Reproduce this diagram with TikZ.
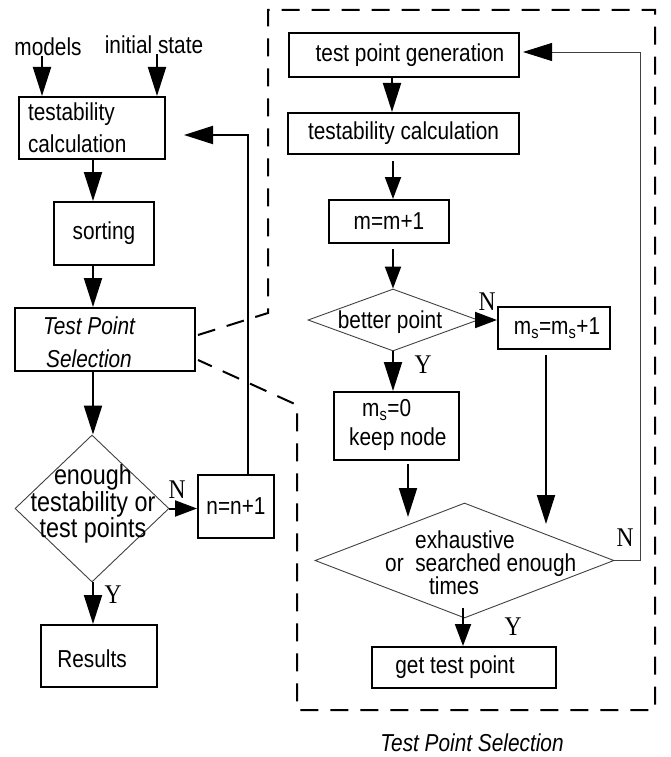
\documentclass[tikz,border=0pt]{standalone}
\usepackage{fontspec}
\setmainfont[FakeStretch=0.85]{Liberation Sans}
\newfontfamily\lserif[FakeStretch=0.87]{Liberation Serif}
\usetikzlibrary{arrows.meta,shapes.geometric}
\begin{document}
\begin{tikzpicture}[x=1pt,y=-1pt,
  box/.style={draw,line width=2pt,rectangle,inner sep=0pt,font=\fontsize{24.5}{25}\selectfont},
  dia/.style={draw=black!75,line width=0.9pt,diamond,inner sep=0pt},
  txt/.style={font=\fontsize{24.5}{25}\selectfont,inner sep=0pt},
  yn/.style={font=\lserif\fontsize{27}{27}\selectfont,inner sep=0pt},
  arr/.style={line width=2pt,-{Triangle[length=29pt,width=18pt]}},
  arrs/.style={line width=2pt,-{Triangle[length=22pt,width=16pt]}},
  fb/.style={line width=0.9pt,draw=black!75},
  frame/.style={line width=2pt,dash pattern=on 18pt off 12pt},
]
\useasboundingbox (0,0) rectangle (670,757);

% ---------- left column ----------
\node[txt] (models) at (48,47) {models};
\node[txt] (init) at (154,45) {initial state};
\node[box, minimum width=146, minimum height=62, text width=128, inner xsep=9pt,
      align=left, font=\fontsize{24.5}{32}\selectfont] (tc1) at (92,128) {testability\\calculation};
\node[box, minimum width=100, minimum height=63] (sort) at (104,233.5) {sorting};
\node[box, minimum width=180, minimum height=63] (tps) at (105,339.5) {};
\node[txt, align=center, font=\itshape\fontsize{24.5}{33}\selectfont] (tpst) at (89,342.5) {Test Point\\Selection};
\node[dia, minimum width=154, minimum height=147] (d1) at (92,508.5) {};
\node[txt, align=center, font=\fontsize{27.5}{20.5}\selectfont] (d1t) at (93,504) {enough\\testability or\\test points};
\node[box, minimum width=76, minimum height=63] (nn) at (236,506.5) {n=n+1};
\node[box, minimum width=116, minimum height=62] (res) at (99,656) {};
\node[txt] (rest) at (92,659) {Results};
\node[yn] (n1) at (177,490) {N};
\node[yn] (y1) at (113,595) {Y};

\draw[arr] ([xshift=-6pt]models.south) -- ([xshift=-6pt]models.south |- tc1.north);
\draw[arr] ([xshift=3pt]init.south) -- ([xshift=3pt]init.south |- tc1.north);
\draw[arr] ([xshift=1pt]tc1.south) -- ([xshift=1pt]tc1.south |- sort.north);
\draw[arr] ([xshift=1pt]tc1.south |- sort.south) -- ([xshift=1pt]tc1.south |- tps.north);
\draw[arr] ([xshift=1pt]tc1.south |- tps.south) -- ([xshift=1pt]d1.north);
\draw[arrs] (d1.east) -- (d1.east -| nn.west);
\draw[arr] ([xshift=1pt]d1.south) -- ([xshift=1pt]d1.south |- res.north);
\coordinate (fb1) at ([xshift=18pt,yshift=-7pt]tc1.east);
\draw[arr] ([xshift=12pt]nn.north) |- (fb1);

% ---------- right column ----------
\node[box, minimum width=230, minimum height=44] (tpg) at (404,55) {\hspace*{12pt}test point generation};
\node[box, minimum width=231, minimum height=41] (tc2) at (403.5,133.5) {testability calculation};
\node[box, minimum width=120, minimum height=43] (mm) at (389,221.5) {m=m+1};
\node[dia, minimum width=170, minimum height=62] (d2) at (393,320) {};
\node[txt] (d2t) at (390,322) {better point};
\node[box, minimum width=112, minimum height=42] (ms1) at (554,328) {\hspace*{6pt}m\textsubscript{s}=m\textsubscript{s}+1};
\node[box, minimum width=125, minimum height=68] (ms0) at (396.5,426) {};
\node[txt, align=left, anchor=west, font=\fontsize{24.5}{29}\selectfont] (ms0t) at (349,425) {\hspace*{13pt}m\textsubscript{s}=0\\keep node};
\node[dia, minimum width=299, minimum height=115] (d3) at (464.5,560.5) {};
\node[txt, align=left, anchor=west, font=\fontsize{24.5}{23}\selectfont] (d3t) at (385,563) {\hspace*{30pt}exhaustive\\or\ \ searched enough\\\hspace*{44pt}times};
\node[box, minimum width=184, minimum height=41] (gtp) at (464,667.5) {get test point\hspace*{18pt}};
\node[txt, font=\itshape\fontsize{24.5}{25}\selectfont] (cap) at (472,743) {Test Point Selection};
\node[yn] (n2) at (487,302) {N};
\node[yn] (y2) at (423,365) {Y};
\node[yn] (n3) at (625,538) {N};
\node[yn] (y3) at (513,627) {Y};

\draw[arr] ([xshift=-12pt]tpg.south) -- ([xshift=-12pt]tpg.south |- tc2.north);
\draw[arrs] ([xshift=-10.5pt,yshift=-6pt]tc2.south) -- ([xshift=-10.5pt]tc2.south |- mm.north);
\draw[arrs] ([xshift=4pt,yshift=-5pt]mm.south) -- (d2.north);
\draw[arrs] (d2.east) -- (d2.east -| ms1.west);
\draw[arr] (d2.south) -- (d2.south |- ms0.north);
\coordinate (ms1e) at ([xshift=-8pt,yshift=-174pt]ms1.south);
\draw[arr] ([xshift=-8pt,yshift=-5pt]ms1.south) -- (ms1e);
\coordinate (ms0e) at ([xshift=11.5pt,yshift=-56pt]ms0.south);
\draw[arr] ([xshift=11.5pt,yshift=-3pt]ms0.south) -- (ms0e);
\draw[arrs] ([xshift=-1.5pt,yshift=10pt]d3.south) -- ([xshift=-1.5pt]d3.south |- gtp.north);
\coordinate (fb2) at ([xshift=3pt,yshift=3pt]tpg.east);
\draw[fb, -{Triangle[length=29pt,width=18pt,color=black,fill=black]}] (d3.east) -- ++(26,0) |- (fb2);

% ---------- dashed call-out frame ----------
\draw[frame] ([xshift=2pt,yshift=4.5pt]tps.east) -- (268,313) -- (268,10) -- (655,10)
  -- (655,710) -- (297,710) -- (297,405) -- ([xshift=2pt,yshift=-20.5pt]tps.east);
\end{tikzpicture}
\end{document}
